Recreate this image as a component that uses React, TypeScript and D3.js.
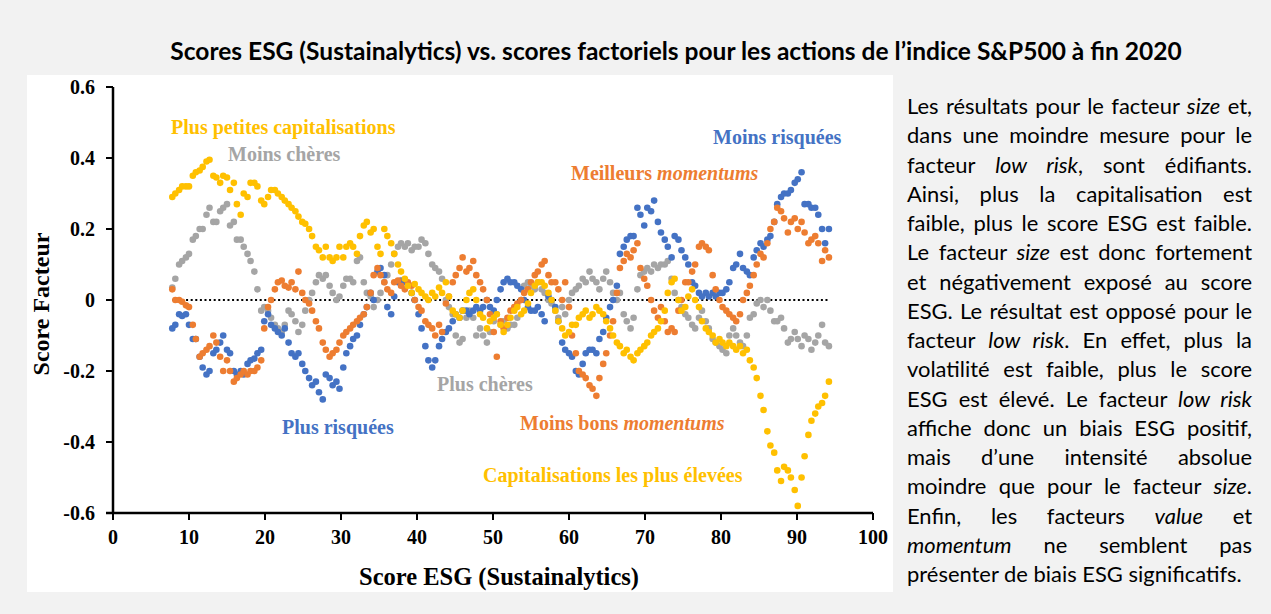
import React, { useLayoutEffect, useRef } from 'react';
import * as d3 from 'd3';

// ESG score (x) shared by the four rolling factor-score series
const esgScores = [
  7.8, 8.2, 8.7, 9.1, 9.6, 10.0, 10.5, 10.9, 11.4, 11.8,
  12.3, 12.7, 13.2, 13.6, 14.1, 14.5, 15.0, 15.4, 15.9, 16.3,
  16.8, 17.2, 17.7, 18.1, 18.6, 19.0, 19.5, 19.9, 20.4, 20.8,
  21.3, 21.7, 22.2, 22.6, 23.1, 23.5, 24.0, 24.4, 24.9, 25.3,
  25.8, 26.2, 26.7, 27.1, 27.6, 28.0, 28.5, 28.9, 29.4, 29.8,
  30.3, 30.7, 31.2, 31.6, 32.1, 32.5, 33.0, 33.4, 33.9, 34.3,
  34.8, 35.2, 35.7, 36.1, 36.6, 37.0, 37.5, 37.9, 38.4, 38.8,
  39.3, 39.7, 40.2, 40.6, 41.1, 41.5, 42.0, 42.4, 42.9, 43.3,
  43.8, 44.2, 44.7, 45.1, 45.6, 46.0, 46.5, 46.9, 47.4, 47.8,
  48.3, 48.7, 49.2, 49.6, 50.1, 50.5, 51.0, 51.4, 51.9, 52.3,
  52.8, 53.2, 53.7, 54.1, 54.6, 55.0, 55.5, 55.9, 56.4, 56.8,
  57.3, 57.7, 58.2, 58.6, 59.1, 59.5, 60.0, 60.4, 60.9, 61.3,
  61.8, 62.2, 62.7, 63.1, 63.6, 64.0, 64.5, 64.9, 65.4, 65.8,
  66.3, 66.7, 67.2, 67.6, 68.1, 68.5, 69.0, 69.4, 69.9, 70.3,
  70.8, 71.2, 71.7, 72.1, 72.6, 73.0, 73.5, 73.9, 74.4, 74.8,
  75.3, 75.7, 76.2, 76.6, 77.1, 77.5, 78.0, 78.4, 78.9, 79.3,
  79.8, 80.2, 80.7, 81.1, 81.6, 82.0, 82.5, 82.9, 83.4, 83.8,
  84.3, 84.7, 85.2, 85.6, 86.1, 86.5, 87.0, 87.4, 87.9, 88.3,
  88.8, 89.2, 89.7, 90.1, 90.6, 91.0, 91.5, 91.9, 92.4, 92.8,
  93.3, 93.7, 94.2,
];

// Size factor (yellow)
const sizeScores = [
  0.29, 0.30, 0.31, 0.32, 0.32, 0.32, 0.35, 0.36, 0.365, 0.375,
  0.39, 0.395, 0.35, 0.345, 0.33, 0.35, 0.345, 0.31, 0.33, 0.27,
  0.24, 0.30, 0.29, 0.33, 0.33, 0.32, 0.28, 0.27, 0.29, 0.31,
  0.31, 0.30, 0.29, 0.28, 0.27, 0.26, 0.25, 0.235, 0.22, 0.215,
  0.20, 0.18, 0.15, 0.14, 0.12, 0.15, 0.12, 0.11, 0.12, 0.15,
  0.12, 0.15, 0.16, 0.15, 0.13, 0.18, 0.21, 0.22, 0.19, 0.20,
  0.15, 0.13, 0.20, 0.18, 0.16, 0.13, 0.10, 0.08, 0.06, 0.04,
  0.02, 0.045, 0.03, 0.02, 0.01, 0.0, 0.02, 0.01, 0.035, 0.02,
  0.05, 0.01, -0.03, -0.04, -0.05, -0.03, 0.0, 0.02, 0.03, 0.0,
  -0.04, -0.05, -0.08, -0.06, -0.05, -0.04, -0.07, -0.09, -0.07, -0.05,
  -0.03, -0.02, -0.04, -0.03, -0.01, 0.02, 0.04, 0.05, 0.05, 0.04,
  0.02, 0.0, -0.03, -0.06, -0.08, -0.10, -0.09, -0.07, -0.07, -0.05,
  -0.04, -0.03, -0.05, -0.04, -0.02, -0.03, -0.04, -0.06, -0.08, -0.10,
  -0.12, -0.13, -0.15, -0.14, -0.16, -0.17, -0.15, -0.14, -0.13, -0.12,
  -0.10, -0.09, -0.08, -0.06, -0.03, 0.02, 0.05, 0.06, 0.0, -0.03,
  -0.02, 0.01, 0.03, 0.0, -0.02, -0.06, -0.08, -0.09, -0.10, -0.12,
  -0.11, -0.12, -0.13, -0.12, -0.13, -0.14, -0.13, -0.15, -0.14, -0.17,
  -0.19, -0.22, -0.27, -0.31, -0.37, -0.41, -0.43, -0.48, -0.51, -0.47,
  -0.48, -0.50, -0.535, -0.58, -0.50, -0.44, -0.38, -0.34, -0.32, -0.30,
  -0.29, -0.27, -0.23,
];

// Low risk factor (blue)
const lowRiskScores = [
  -0.08, -0.07, -0.04, -0.045, -0.04, -0.07, -0.11, -0.11, -0.16, -0.19,
  -0.21, -0.20, -0.15, -0.14, -0.12, -0.10, -0.14, -0.15, -0.20, -0.21,
  -0.20, -0.21, -0.18, -0.17, -0.165, -0.15, -0.14, -0.06, -0.04, -0.07,
  -0.08, -0.09, -0.10, -0.08, -0.12, -0.15, -0.16, -0.15, -0.18, -0.20,
  -0.22, -0.24, -0.23, -0.26, -0.28, -0.21, -0.22, -0.24, -0.23, -0.25,
  -0.19, -0.15, -0.13, -0.11, -0.10, -0.07, -0.04, -0.02, 0.02, 0.0,
  0.08, 0.09, 0.07, -0.02, -0.04, 0.01, 0.05, 0.055, 0.05, 0.045,
  0.02, 0.0, -0.04, -0.08, -0.13, -0.17, -0.19, -0.17, -0.13, -0.11,
  -0.09, -0.08, -0.06, -0.04, -0.05, -0.03, -0.03, -0.04, -0.03, -0.02,
  -0.03, -0.02, 0.0, -0.02, -0.03, 0.0, 0.03, 0.05, 0.06, 0.05,
  0.05, 0.04, 0.03, 0.0, -0.02, -0.03, -0.03, -0.02, -0.04, -0.06,
  0.01, 0.0, -0.02, -0.06, -0.12, -0.14, -0.15, -0.16, -0.20, -0.21,
  -0.18, -0.15, -0.14, -0.14, -0.15, -0.11, -0.09, -0.05, -0.02, 0.0,
  0.04, 0.13, 0.15, 0.17, 0.18, 0.18, 0.26, 0.24, 0.21, 0.26,
  0.25, 0.28, 0.22, 0.19, 0.17, 0.15, 0.12, 0.18, 0.17, 0.14,
  0.12, 0.10, 0.05, 0.04, 0.02, 0.01, 0.02, 0.01, 0.02, 0.01,
  0.02, 0.02, 0.03, 0.05, 0.09, 0.10, 0.13, 0.09, 0.08, 0.07,
  0.12, 0.14, 0.16, 0.15, 0.17, 0.18, 0.22, 0.27, 0.29, 0.30,
  0.30, 0.31, 0.33, 0.34, 0.36, 0.27, 0.27, 0.26, 0.26, 0.24,
  0.20, 0.16, 0.20,
];

// Momentum factor (orange)
const momentumScores = [
  0.03, 0.0, 0.0, -0.005, -0.015, -0.02, -0.07, -0.11, -0.16, -0.15,
  -0.14, -0.13, -0.10, -0.12, -0.16, -0.20, -0.17, -0.20, -0.23, -0.22,
  -0.21, -0.20, -0.21, -0.20, -0.20, -0.19, -0.17, -0.08, -0.02, 0.0,
  0.03, 0.05, 0.055, 0.04, 0.035, 0.05, 0.03, 0.08, 0.02, 0.0,
  -0.01, -0.03, -0.06, -0.08, -0.12, -0.14, -0.16, -0.15, -0.14, -0.12,
  -0.10, -0.09, -0.08, -0.07, -0.06, -0.05, -0.04, -0.02, 0.02, 0.07,
  0.09, 0.07, 0.05, 0.03, 0.02, 0.05, 0.055, 0.04, 0.03, 0.05,
  0.04, 0.0, -0.02, -0.03, -0.06, -0.07, -0.08, -0.10, -0.07, -0.09,
  -0.01, 0.01, 0.05, 0.07, 0.09, 0.12, 0.08, 0.09, 0.11, 0.07,
  0.05, 0.03, 0.0, -0.04, -0.09, -0.16, -0.06, -0.08, -0.05, -0.03,
  -0.02, -0.01, 0.0, 0.02, 0.03, 0.05, 0.07, 0.08, 0.10, 0.11,
  0.07, 0.05, 0.05, 0.03, 0.0, 0.05, -0.02, -0.10, -0.15, -0.20,
  -0.21, -0.22, -0.24, -0.25, -0.27, -0.22, -0.18, -0.15, -0.10, -0.06,
  0.02, 0.09, 0.11, 0.13, 0.12, 0.14, 0.16, 0.09, 0.06, 0.04,
  0.0, -0.03, -0.05, -0.02, -0.06, -0.09, -0.08, -0.09, -0.03, 0.0,
  0.05, 0.05, 0.08, 0.10, 0.15, 0.16, 0.15, 0.14, 0.07, 0.03,
  0.0, -0.02, -0.03, -0.04, -0.05, -0.06, -0.04, 0.0, 0.02, 0.04,
  0.07, 0.10, 0.13, 0.12, 0.16, 0.20, 0.22, 0.26, 0.25, 0.23,
  0.19, 0.22, 0.23, 0.20, 0.22, 0.19, 0.16, 0.17, 0.18, 0.16,
  0.11, 0.14, 0.12,
];

// Value factor (gray)
const valueScores = [
  0.035, 0.06, 0.10, 0.11, 0.12, 0.13, 0.17, 0.18, 0.20, 0.20,
  0.24, 0.26, 0.22, 0.22, 0.25, 0.26, 0.27, 0.21, 0.22, 0.17,
  0.17, 0.15, 0.13, 0.11, 0.08, 0.03, -0.03, -0.02, -0.03, -0.05,
  -0.07, -0.08, -0.09, -0.07, -0.03, -0.04, -0.06, -0.09, -0.07, -0.03,
  0.0, 0.02, 0.05, 0.07, 0.06, 0.07, 0.04, 0.02, 0.0, 0.01,
  0.04, 0.06, 0.06, 0.05, 0.11, 0.12, 0.05, 0.02, 0.01, -0.02,
  0.0, 0.02, 0.05, 0.07, 0.10, 0.13, 0.15, 0.16, 0.15, 0.16,
  0.14, 0.15, 0.15, 0.17, 0.16, 0.13, 0.10, 0.09, 0.08, 0.06,
  0.0, -0.02, -0.04, -0.10, -0.12, -0.11, -0.05, -0.03, -0.05, -0.10,
  -0.08, -0.10, -0.12, -0.09, -0.06, -0.04, -0.07, -0.06, -0.08, -0.07,
  -0.07, -0.05, 0.0, 0.04, 0.05, 0.04, 0.03, 0.05, 0.03, 0.02,
  0.0, -0.01, -0.03, -0.05, -0.02, -0.04, 0.0, 0.02, 0.03, 0.04,
  0.06, 0.05, 0.08, 0.06, 0.05, 0.03, 0.06, 0.08, 0.05, 0.02,
  0.0, 0.02, -0.04, -0.06, -0.08, -0.05, 0.03, 0.07, 0.08, 0.09,
  0.08, 0.10, 0.09, 0.10, 0.10, 0.11, 0.06, 0.02, 0.0, -0.02,
  -0.04, -0.05, -0.07, -0.08, -0.05, -0.03, -0.06, -0.08, -0.11, -0.12,
  -0.13, -0.14, -0.15, -0.10, -0.08, -0.10, -0.12, -0.13, -0.10, -0.05,
  -0.04, -0.01, 0.0, -0.02, 0.0, -0.03, -0.06, -0.06, -0.05, -0.08,
  -0.12, -0.11, -0.09, -0.11, -0.13, -0.10, -0.11, -0.14, -0.12, -0.10,
  -0.07, -0.12, -0.13,
];

const xTicks = [0, 10, 20, 30, 40, 50, 60, 70, 80, 90, 100];
const yTicks = [-0.6, -0.4, -0.2, 0, 0.2, 0.4, 0.6];

const BLUE = '#4472C4';
const ORANGE = '#ED7D31';
const GRAY = '#A5A5A5';
const YELLOW = '#FFC000';

const series = [
  { key: 'value', color: GRAY, values: valueScores },
  { key: 'lowRisk', color: BLUE, values: lowRiskScores },
  { key: 'momentum', color: ORANGE, values: momentumScores },
  { key: 'size', color: YELLOW, values: sizeScores },
];

type Seg = { t: string; i?: boolean };
const annotations: { x: number; y: number; color: string; segs: Seg[] }[] = [
  { x: 171, y: 127, color: YELLOW, segs: [{ t: 'Plus petites capitalisations' }] },
  { x: 228, y: 154, color: GRAY, segs: [{ t: 'Moins chères' }] },
  { x: 713, y: 137, color: BLUE, segs: [{ t: 'Moins risquées' }] },
  { x: 571, y: 173, color: ORANGE, segs: [{ t: 'Meilleurs ' }, { t: 'momentums', i: true }] },
  { x: 437, y: 384, color: GRAY, segs: [{ t: 'Plus chères' }] },
  { x: 282, y: 427, color: BLUE, segs: [{ t: 'Plus risquées' }] },
  { x: 520, y: 423, color: ORANGE, segs: [{ t: 'Moins bons ' }, { t: 'momentums', i: true }] },
  { x: 483, y: 475, color: YELLOW, segs: [{ t: 'Capitalisations les plus élevées' }] },
];

const paragraph: Seg[][] = [
  [{ t: 'Les résultats pour le facteur ' }, { t: 'size', i: true }, { t: ' et,' }],
  [{ t: 'dans une moindre mesure pour le' }],
  [{ t: 'facteur ' }, { t: 'low risk', i: true }, { t: ', sont édifiants.' }],
  [{ t: 'Ainsi, plus la capitalisation est' }],
  [{ t: 'faible, plus le score ESG est faible.' }],
  [{ t: 'Le facteur ' }, { t: 'size', i: true }, { t: ' est donc fortement' }],
  [{ t: 'et négativement exposé au score' }],
  [{ t: 'ESG. Le résultat est opposé pour le' }],
  [{ t: 'facteur ' }, { t: 'low risk', i: true }, { t: '. En effet, plus la' }],
  [{ t: 'volatilité est faible, plus le score' }],
  [{ t: 'ESG est élevé. Le facteur ' }, { t: 'low risk', i: true }],
  [{ t: 'affiche donc un biais ESG positif,' }],
  [{ t: 'mais d’une intensité absolue' }],
  [{ t: 'moindre que pour le facteur ' }, { t: 'size', i: true }, { t: '.' }],
  [{ t: 'Enfin, les facteurs ' }, { t: 'value', i: true }, { t: ' et' }],
  [{ t: 'momentum', i: true }, { t: ' ne semblent pas' }],
  [{ t: 'présenter de biais ESG significatifs.' }],
];

const TITLE = 'Scores ESG (Sustainalytics) vs. scores factoriels pour les actions de l’indice S&P500 à fin 2020';

const W = 1271;
const H = 614;
const PARA_X = 907;
const PARA_W = 345;
const LAST_W = 335;
const TITLE_W = 1012;

const fmtTick = (v: number) => (v === 0 ? '0' : v.toFixed(1));

export default function App() {
  const x = d3.scaleLinear().domain([0, 100]).range([113, 873]);
  const y = d3.scaleLinear().domain([-0.6, 0.6]).range([513, 87]);
  const paraRef = useRef<SVGGElement>(null);
  const titleRef = useRef<SVGTextElement>(null);

  useLayoutEffect(() => {
    const run = () => {
      const g = paraRef.current;
      if (g) {
        const lines = Array.from(g.querySelectorAll('text')) as SVGTextElement[];
        lines.forEach((t) => {
          t.setAttribute('font-size', '20');
          t.style.wordSpacing = '0px';
        });
        const last = lines[lines.length - 1];
        const lw = last.getComputedTextLength();
        const fs = (20 * LAST_W) / lw;
        lines.forEach((t) => t.setAttribute('font-size', String(fs)));
        lines.forEach((t, i) => {
          if (i === lines.length - 1) return;
          const len = t.getComputedTextLength();
          const spaces = ((t.textContent || '').match(/ /g) || []).length;
          if (spaces > 0) t.style.wordSpacing = `${(PARA_W - len) / spaces}px`;
        });
      }
      const tt = titleRef.current;
      if (tt) {
        tt.setAttribute('font-size', '20');
        const len = tt.getComputedTextLength();
        tt.setAttribute('font-size', String((20 * TITLE_W) / len));
      }
    };
    run();
    if ((document as any).fonts && (document as any).fonts.ready) {
      (document as any).fonts.ready.then(run);
    }
  }, []);

  const x0 = x(esgScores[0]);
  const x1 = x(esgScores[esgScores.length - 1]);
  const serif = "'Liberation Serif', 'Times New Roman', serif";
  const sans = "Lato, 'Open Sans', sans-serif";

  return (
    <div style={{ position: 'fixed', left: 0, top: 0 }}>
      <svg width={W} height={H} style={{ display: 'block' }}>
        <rect x={0} y={0} width={W} height={H} fill="#F2F2F2" />
        <rect x={27} y={75} width={866} height={517} fill="#FFFFFF" />

        <text
          ref={titleRef}
          x={676}
          y={50}
          textAnchor="middle"
          dominantBaseline="central"
          fontFamily={sans}
          fontWeight="bold"
          fontSize={20}
          fill="#000"
        >
          {TITLE}
        </text>

        {/* zero reference line */}
        <line x1={x0} x2={x1} y1={y(0)} y2={y(0)} stroke="#000" strokeWidth={2} strokeDasharray="2 2.6" />

        {/* points */}
        {series.map((s) => (
          <g key={s.key} fill={s.color}>
            {s.values.map((v, i) => (
              <circle key={i} cx={x(esgScores[i])} cy={y(v)} r={3.3} />
            ))}
          </g>
        ))}

        {/* axes */}
        <line x1={x(0)} x2={x(0)} y1={y(0.6)} y2={y(-0.6)} stroke="#000" strokeWidth={2.5} />
        <line x1={x(0) - 7} x2={x(100)} y1={y(-0.6)} y2={y(-0.6)} stroke="#000" strokeWidth={2.5} />
        {yTicks.map((t) => (
          <g key={`y${t}`}>
            <line x1={x(0) - 7} x2={x(0)} y1={y(t)} y2={y(t)} stroke="#000" strokeWidth={2} />
            <text
              x={95}
              y={y(t)}
              textAnchor="end"
              dominantBaseline="central"
              fontFamily={serif}
              fontWeight="bold"
              fontSize={20}
            >
              {fmtTick(t)}
            </text>
          </g>
        ))}
        {xTicks.map((t) => (
          <g key={`x${t}`}>
            <line x1={x(t)} x2={x(t)} y1={y(-0.6)} y2={y(-0.6) + 7} stroke="#000" strokeWidth={2} />
            <text
              x={x(t)}
              y={537}
              textAnchor="middle"
              dominantBaseline="central"
              fontFamily={serif}
              fontWeight="bold"
              fontSize={20}
            >
              {t}
            </text>
          </g>
        ))}

        <text
          x={499}
          y={576}
          textAnchor="middle"
          dominantBaseline="central"
          fontFamily={serif}
          fontWeight="bold"
          fontSize={24.5}
        >
          Score ESG (Sustainalytics)
        </text>
        <text
          transform={`translate(41,304) rotate(-90)`}
          textAnchor="middle"
          dominantBaseline="central"
          fontFamily={serif}
          fontWeight="bold"
          fontSize={24}
        >
          Score Facteur
        </text>

        {/* annotations */}
        {annotations.map((a, k) => (
          <text
            key={k}
            x={a.x}
            y={a.y}
            dominantBaseline="central"
            fontFamily={serif}
            fontWeight="bold"
            fontSize={20}
            fill={a.color}
          >
            {a.segs.map((s, j) => (
              <tspan key={j} fontStyle={s.i ? 'italic' : 'normal'}>
                {s.t}
              </tspan>
            ))}
          </text>
        ))}

        {/* commentary */}
        <g ref={paraRef}>
          {paragraph.map((line, i) => (
            <text
              key={i}
              x={PARA_X}
              y={105 + i * 29.25}
              dominantBaseline="central"
              fontFamily={sans}
              fontSize={20}
              fill="#000"
              style={{ whiteSpace: 'pre' }}
            >
              {line.map((s, j) => (
                <tspan key={j} fontStyle={s.i ? 'italic' : 'normal'}>
                  {s.t}
                </tspan>
              ))}
            </text>
          ))}
        </g>
      </svg>
    </div>
  );
}
